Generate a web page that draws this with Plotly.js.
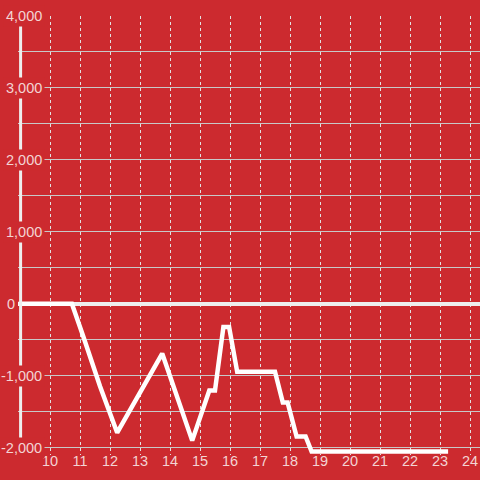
<!DOCTYPE html>
<html>
<head>
<meta charset="utf-8">
<script src="https://cdn.plot.ly/plotly-3.0.1.min.js"></script>
<style>html,body{margin:0;padding:0;background:#cc2a2f;}#chart{width:480px;height:480px;}</style>
</head>
<body>
<div id="chart"></div>
<script>
// Series values
const xValues = [8.95, 10.73, 11.11, 11.67, 12.24, 13.0, 13.74, 14.74, 15.31, 15.5, 15.78, 15.97, 16.24, 17.5, 17.76, 17.92, 18.22, 18.52, 18.72, 23.27];
const yValues = [0, 0, -454, -1148, -1790, -1236, -690, -1900, -1204, -1204, -320, -320, -944, -944, -1370, -1370, -1843, -1843, -2051, -2051];

// Tick labels
const xTickVals = [10, 11, 12, 13, 14, 15, 16, 17, 18, 19, 20, 21, 22, 23, 24];
const xTickText = ["10", "11", "12", "13", "14", "15", "16", "17", "18", "19", "20", "21", "22", "23", "24"];
const yTickVals = [4000, 3000, 2000, 1000, 0, -1000, -2000];
const yTickText = ["4,000", "3,000", "2,000", "1,000", "0", "-1,000", "-2,000"];

const bg = "#cc2a2f";
const labelColor = "#f3d4d4";
const labelFont = {family: "Liberation Sans, Arial, sans-serif", size: 14.5, color: labelColor};

const yLabelAnnotations = yTickVals.map((v, i) => ({
  xref: "paper", yref: "y", x: v === 0 ? 0 : 0.0584, y: v,
  xanchor: "right", yanchor: "middle",
  text: yTickText[i], showarrow: false,
  font: labelFont, bgcolor: v === 0 ? "rgba(0,0,0,0)" : bg, borderpad: 2
}));

const data = [{
  type: "scatter", mode: "lines",
  x: xValues, y: yValues,
  line: {color: "#ffffff", width: 4.5},
  hoverinfo: "none"
}];

const layout = {
  width: 480, height: 480,
  margin: {l: 18, r: 0, t: 16, b: 25},
  paper_bgcolor: bg, plot_bgcolor: bg,
  showlegend: false,
  xaxis: {
    range: [8.9333, 24.3333],
    tickvals: xTickVals, ticktext: xTickText,
    showgrid: true, gridcolor: "#e2e2e2", gridwidth: 1, griddash: "dot",
    zeroline: false, showline: false, ticks: "",
    tickfont: labelFont, ticklabelstandoff: -5
  },
  yaxis: {
    range: [-2100, 4000],
    tick0: 0, dtick: 500,
    showticklabels: false,
    showgrid: true, gridcolor: "#c8c8c8", gridwidth: 1,
    zeroline: true, zerolinecolor: "#eeeeee", zerolinewidth: 3.5,
    showline: false, ticks: ""
  },
  shapes: [{
    type: "line", xref: "x", yref: "y",
    x0: 9.02, x1: 9.02, y0: -2000, y1: 4000,
    line: {color: "#eeeeee", width: 3}, layer: "above"
  }],
  annotations: yLabelAnnotations
};

Plotly.newPlot("chart", data, layout, {staticPlot: true, displayModeBar: false});
</script>
</body>
</html>
